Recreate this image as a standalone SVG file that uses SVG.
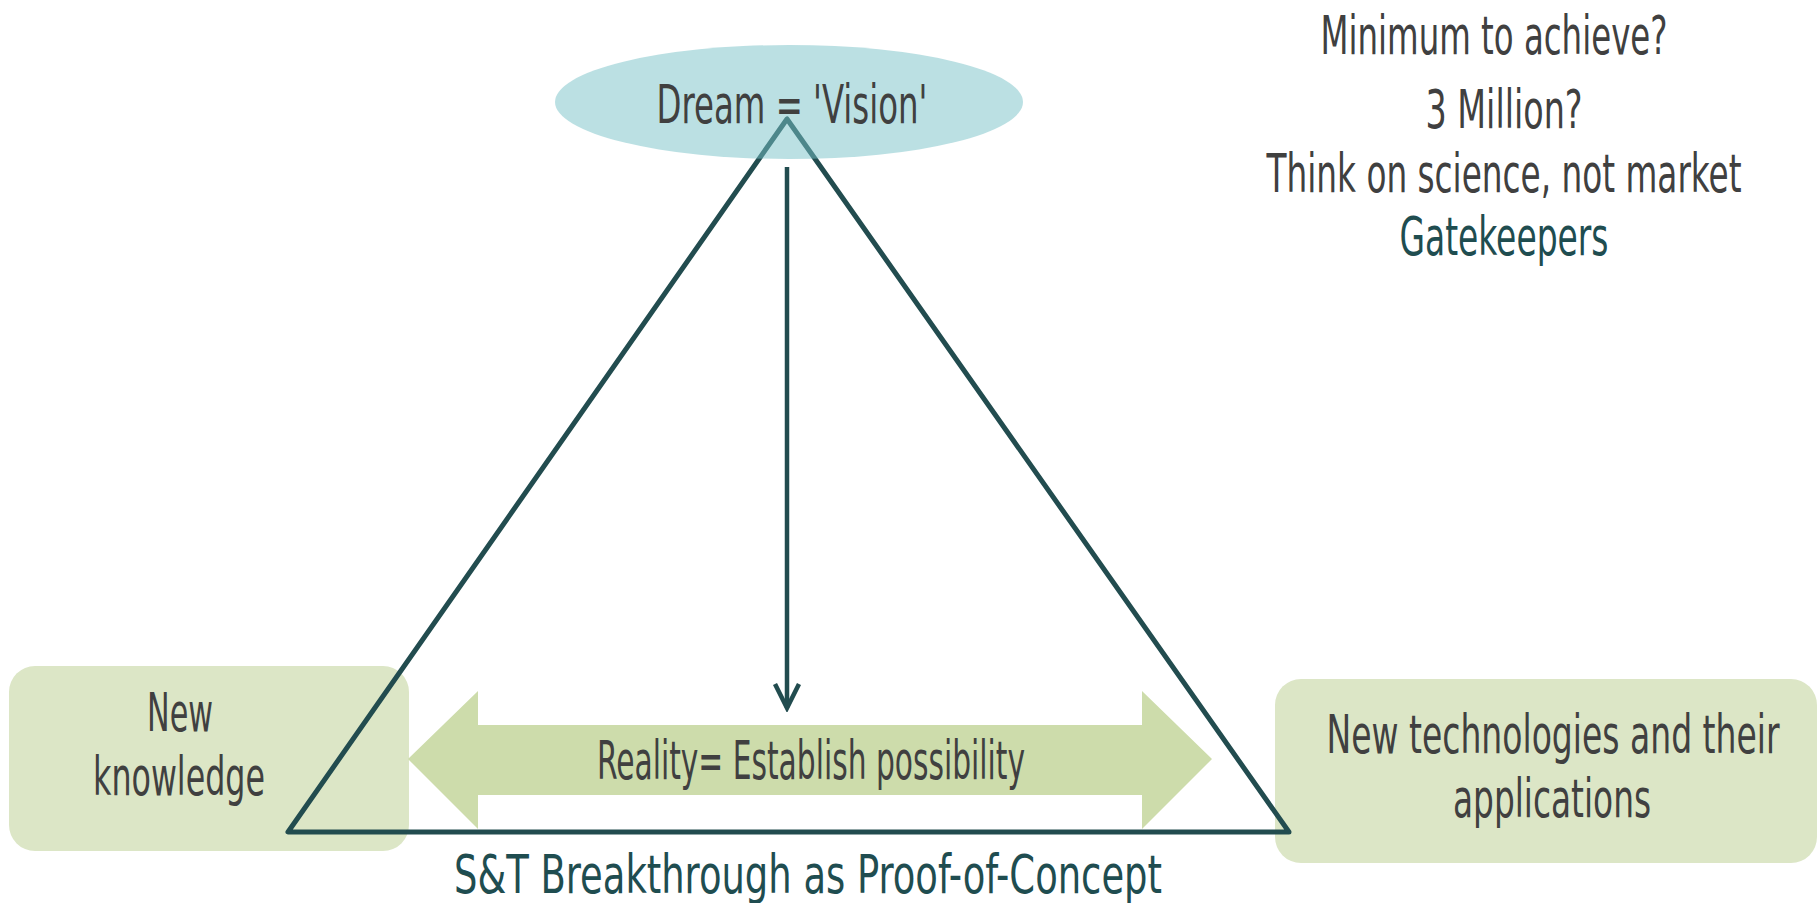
<svg xmlns="http://www.w3.org/2000/svg" width="1817" height="903" viewBox="0 0 1817 903">
<style>
text{font-family:"DejaVu Sans Condensed","Liberation Sans Narrow","Liberation Sans",sans-serif;text-anchor:middle;fill:#404040;font-size:40px}
.teal{fill:#1f4d50}
.box{fill:#dce6c6}
.tri{fill:none;stroke:#224c4f;stroke-width:5;stroke-linejoin:round}
</style>
<defs>
<marker id="vee" viewBox="0 0 30 30" refX="26" refY="15" markerWidth="30" markerHeight="30" markerUnits="userSpaceOnUse" orient="auto">
<path d="M2,3 L26,15 L2,27" fill="none" stroke="#224c4f" stroke-width="4.5"/>
</marker>
</defs>
<rect width="1817" height="903" fill="#ffffff"/>
<g id="new-knowledge">
<rect class="box" x="9" y="666" width="400" height="185" rx="26"/>
<text transform="translate(180 731) scale(1 1.35)" textLength="66" lengthAdjust="spacingAndGlyphs">New</text>
<text transform="translate(179 795) scale(1 1.35)" textLength="172" lengthAdjust="spacingAndGlyphs">knowledge</text>
</g>
<g id="new-technologies">
<rect class="box" x="1275" y="679" width="542" height="184" rx="26"/>
<text transform="translate(1553 753) scale(1 1.35)" textLength="453" lengthAdjust="spacingAndGlyphs">New technologies and their</text>
<text transform="translate(1552 817) scale(1 1.35)" textLength="198" lengthAdjust="spacingAndGlyphs">applications</text>
</g>
<g id="reality">
<polygon points="408,759 478,691 478,725 1142,725 1142,691 1212,759 1142,829 1142,795 478,795 478,829" fill="#cddcab"/>
<text transform="translate(811 779) scale(1 1.35)" font-size="38" textLength="428" lengthAdjust="spacingAndGlyphs">Reality= Establish possibility</text>
</g>
<g id="connectors">
<polygon class="tri" points="787,119 288,832 1289,832"/>
<line x1="787" y1="167" x2="787" y2="708" stroke="#224c4f" stroke-width="4.5" marker-end="url(#vee)"/>
</g>
<g id="dream">
<ellipse cx="789" cy="102" rx="234" ry="57" fill="#78c1c7" fill-opacity="0.5"/>
<text transform="translate(792 123) scale(1 1.35)" textLength="271" lengthAdjust="spacingAndGlyphs">Dream = 'Vision'</text>
</g>
<g id="breakthrough">
<text class="teal" transform="translate(808 893) scale(1 1.35)" font-size="36" textLength="708" lengthAdjust="spacingAndGlyphs">S&amp;T Breakthrough as Proof-of-Concept</text>
</g>
<g id="notes">
<text transform="translate(1494 54) scale(1 1.35)" textLength="347" lengthAdjust="spacingAndGlyphs">Minimum to achieve?</text>
<text transform="translate(1504 128) scale(1 1.35)" textLength="157" lengthAdjust="spacingAndGlyphs">3 Million?</text>
<text transform="translate(1504 192) scale(1 1.35)" textLength="475" lengthAdjust="spacingAndGlyphs">Think on science, not market</text>
<text class="teal" transform="translate(1504 255) scale(1 1.35)" textLength="209" lengthAdjust="spacingAndGlyphs">Gatekeepers</text>
</g>
</svg>
